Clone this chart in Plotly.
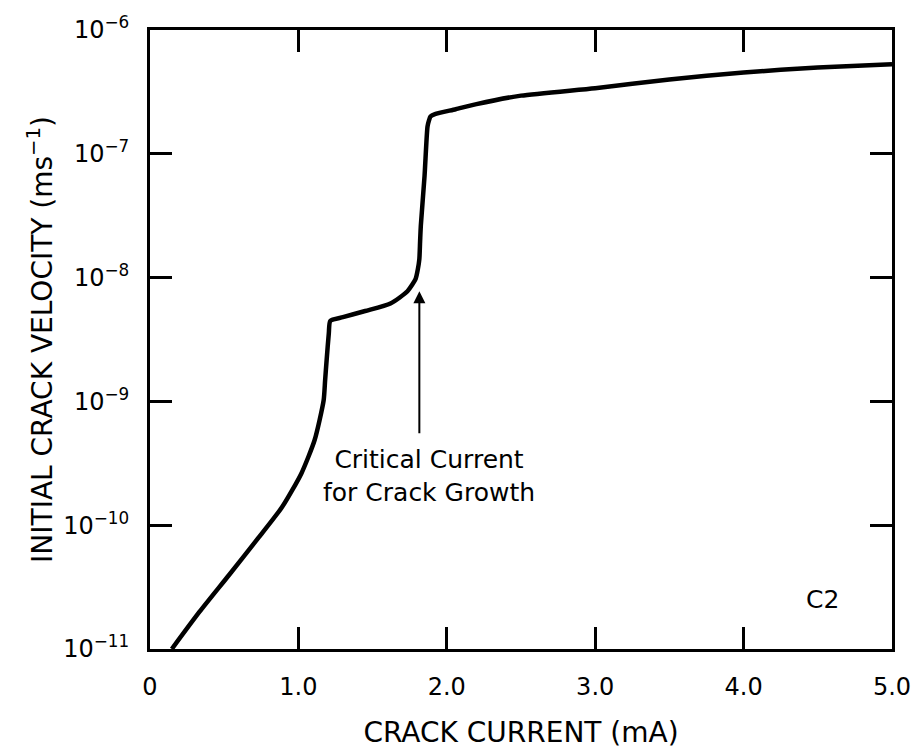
import plotly.graph_objects as go

# Data
crack_current_mA = [0.147, 0.334, 0.534, 0.734, 0.89, 1.02, 1.11, 1.17, 1.18, 1.19,
                    1.205, 1.215, 1.30, 1.45, 1.62, 1.735, 1.79, 1.805, 1.815, 1.82,
                    1.825, 1.85, 1.87, 1.88, 1.89, 1.92, 2.06, 2.2, 2.5, 3.0,
                    3.5, 4.0, 4.5, 5.0]
crack_velocity = [1.0e-11, 2.0e-11, 3.98e-11, 8.0e-11, 1.40e-10, 2.62e-10, 4.90e-10,
                  1.02e-9, 1.48e-9, 2.14e-9, 3.55e-9, 4.47e-9, 4.79e-9, 5.37e-9,
                  6.17e-9, 7.76e-9, 9.77e-9, 1.17e-8, 1.41e-8, 1.95e-8, 2.63e-8,
                  6.61e-8, 1.66e-7, 1.86e-7, 2.0e-7, 2.09e-7, 2.29e-7, 2.52e-7,
                  2.95e-7, 3.39e-7, 3.98e-7, 4.54e-7, 4.98e-7, 5.3e-7]

x_tick_vals = [0, 1, 2, 3, 4, 5]
x_tick_text = ["0", "1.0", "2.0", "3.0", "4.0", "5.0"]
y_tick_vals = [1e-11, 1e-10, 1e-9, 1e-8, 1e-7, 1e-6]
y_tick_text = ["10<sup>−11</sup>", "10<sup>−10</sup>", "10<sup>−9</sup>",
               "10<sup>−8</sup>", "10<sup>−7</sup>", "10<sup>−6</sup>"]

critical_current = 1.815

FONT = "DejaVu Sans, Liberation Sans, Arial, sans-serif"

fig = go.Figure()
fig.add_trace(go.Scatter(
    x=crack_current_mA, y=crack_velocity, mode="lines",
    line=dict(color="black", width=4.5, shape="spline", smoothing=0.6),
    showlegend=False, hoverinfo="skip",
))

fig.update_layout(
    width=923, height=755,
    margin=dict(l=150, r=24, t=25, b=102),
    paper_bgcolor="white", plot_bgcolor="white",
    font=dict(family=FONT, size=24, color="black"),
    xaxis=dict(
        range=[0, 5], tickvals=x_tick_vals, ticktext=x_tick_text,
        ticks="inside", ticklen=22, tickwidth=2.5, tickcolor="black",
        showline=True, linecolor="black", linewidth=3, mirror="ticks",
        showgrid=False, zeroline=False, ticklabelstandoff=14,
        tickfont=dict(size=24),
        title=dict(text="CRACK CURRENT (mA)", standoff=23,
                   font=dict(size=28)),
    ),
    yaxis=dict(
        type="log", range=[-11, -6], tickvals=y_tick_vals, ticktext=y_tick_text,
        ticks="inside", ticklen=22, tickwidth=2.5, tickcolor="black",
        showline=True, linecolor="black", linewidth=3, mirror="ticks",
        showgrid=False, zeroline=False, ticklabelstandoff=13,
        tickfont=dict(size=24),
        title=dict(text="INITIAL CRACK VELOCITY (ms<sup>−1</sup>)", standoff=3,
                   font=dict(size=28)),
    ),
)

# Arrow marking the critical current
fig.add_annotation(
    x=critical_current, y=-8.11, ax=critical_current, ay=-9.27,
    xref="x", yref="y", axref="x", ayref="y",
    text="", showarrow=True, arrowhead=2, arrowsize=1.2, arrowwidth=2,
    arrowcolor="black",
)
fig.add_annotation(
    x=1.88, y=-9.60, xref="x", yref="y",
    text="Critical Current<br>for Crack Growth", showarrow=False,
    font=dict(size=25), align="center",
)
fig.add_annotation(
    x=4.53, y=-10.60, xref="x", yref="y",
    text="C2", showarrow=False, font=dict(size=25),
)

fig.write_html("out.html")
